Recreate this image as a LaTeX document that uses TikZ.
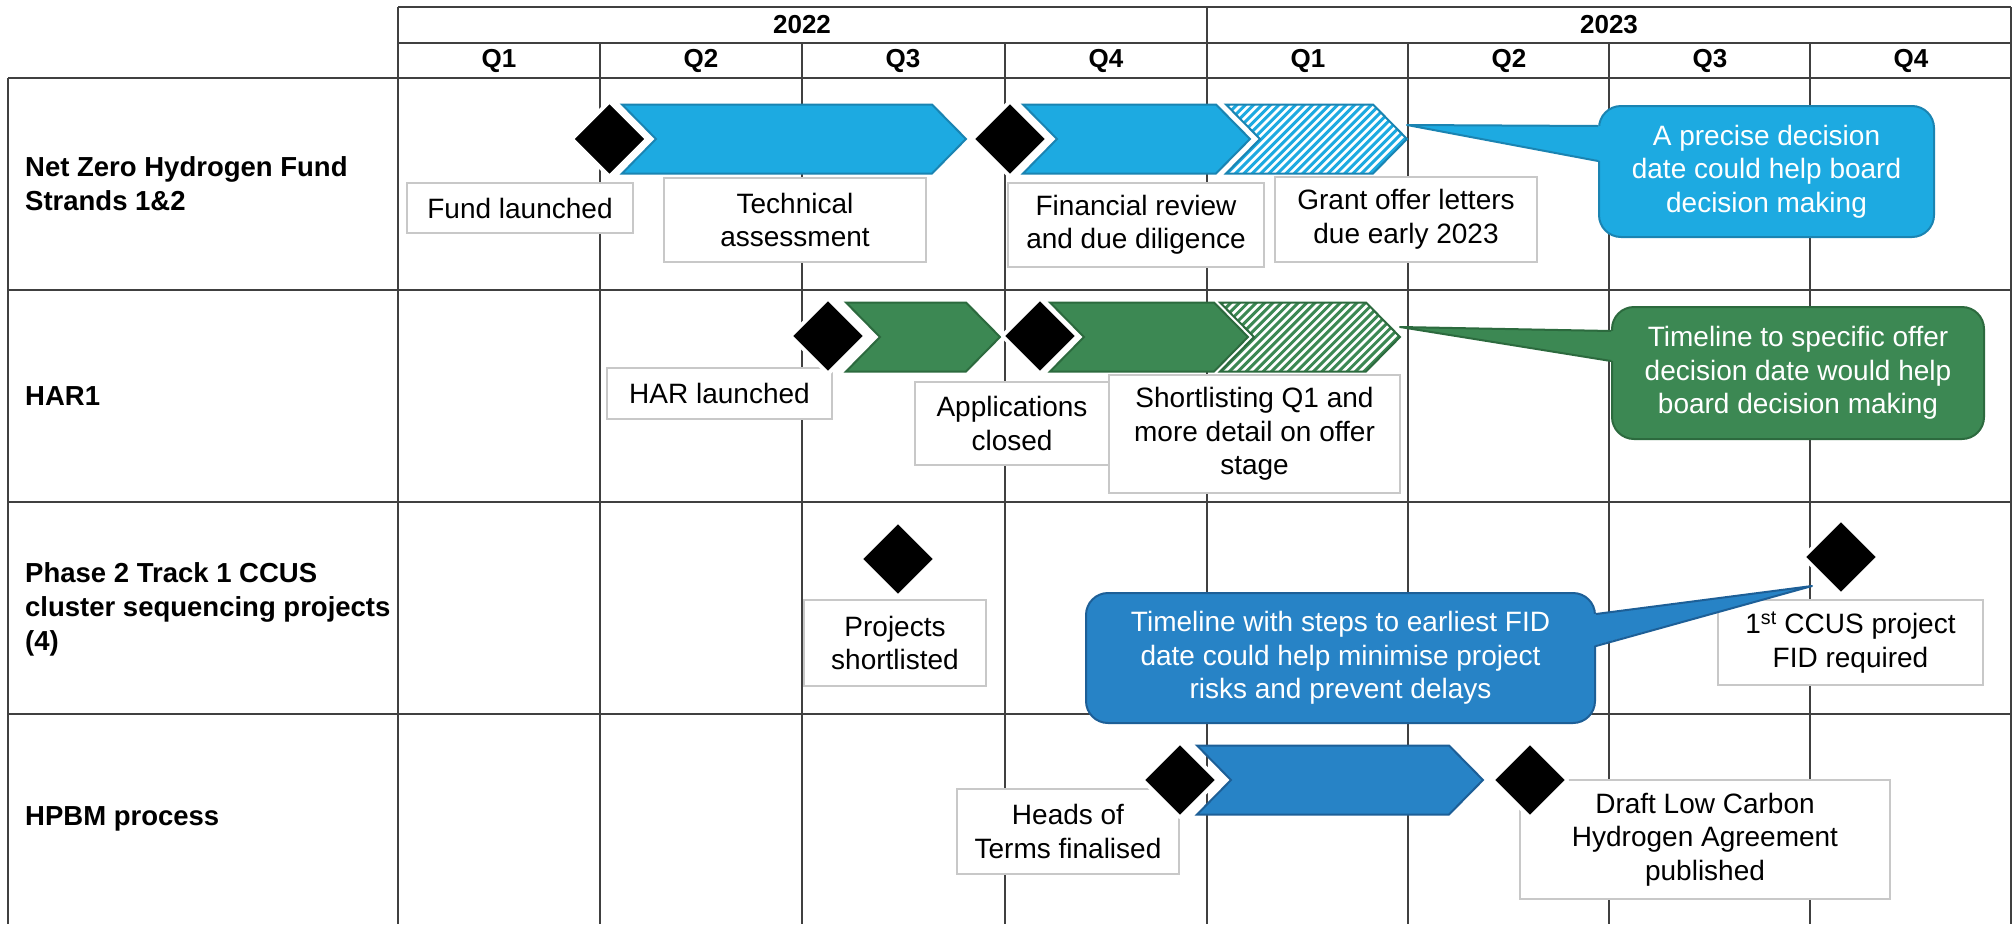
\documentclass[tikz,border=0pt]{standalone}
\usepackage{fontspec}
\setmainfont{Liberation Sans}
\usetikzlibrary{shapes.geometric,calc}

\definecolor{lblue}{HTML}{1DAAE1}
\definecolor{lblueD}{HTML}{1A84B2}
\definecolor{grn}{HTML}{3C8853}
\definecolor{grnD}{HTML}{2C6A3E}
\definecolor{dblue}{HTML}{2783C6}
\definecolor{dblueD}{HTML}{1D5F97}
\definecolor{gridc}{HTML}{404040}
\definecolor{boxc}{HTML}{C8C8C8}

% chevron: #1 style, #2 left x, #3 point x, #4 centre y
\newcommand{\chev}[4]{\path[#1] (#2,#4-34.5) -- (#3-34,#4-34.5) -- (#3,#4) -- (#3-34,#4+34.5) -- (#2,#4+34.5) -- (#2+34,#4) -- cycle;}
% hatched chevron: #1 stripe colour, #2 border colour, #3 left x, #4 point x, #5 centre y
\newcommand{\hchev}[5]{%
  \fill[white] (#3,#5-34.5) -- (#4-34,#5-34.5) -- (#4,#5) -- (#4-34,#5+34.5) -- (#3,#5+34.5) -- (#3+34,#5) -- cycle;
  \begin{scope}
    \clip (#3,#5-34.5) -- (#4-34,#5-34.5) -- (#4,#5) -- (#4-34,#5+34.5) -- (#3,#5+34.5) -- (#3+34,#5) -- cycle;
    \foreach \k in {0,...,34} \draw[#1, line width=3pt] (#3-80+\k*8.4,#5+40) -- ++(80,-80);
  \end{scope}
  \draw[#2, line width=2pt, line join=miter] (#3,#5-34.5) -- (#4-34,#5-34.5) -- (#4,#5) -- (#4-34,#5+34.5) -- (#3,#5+34.5) -- (#3+34,#5) -- cycle;}

\tikzset{
  gridline/.style={draw=gridc, line width=1.5pt},
  hdr/.style={font=\fontsize{26}{30}\selectfont\bfseries, inner sep=0pt},
  rowlbl/.style={font=\fontsize{27.5}{34}\selectfont\bfseries, align=left, anchor=west, inner sep=0pt},
  milestone/.style={diamond, fill=black, draw=white, line width=4pt, minimum width=77pt, minimum height=77pt, inner sep=0pt, rounded corners=2pt},
  lbl/.style={draw=boxc, line width=1.2pt, fill=white, align=center, inner sep=0pt, font=\fontsize{28}{33.5}\selectfont},
  callbase/.style={rounded corners=22pt, line width=2pt, text=white, align=center, inner sep=0pt, font=\fontsize{28}{33.5}\selectfont},
  solidA/.style={fill=lblue, draw=lblueD, line width=2pt},
  solidG/.style={fill=grn, draw=grnD, line width=2pt},
  solidD/.style={fill=dblue, draw=dblueD, line width=2pt},
}

\begin{document}
\begin{tikzpicture}[x=1pt,y=-1pt]
\useasboundingbox (0,0) rectangle (2013,924);
\fill[white] (0,0) rectangle (2013,924);

% ---------- grid ----------
\foreach \yy in {7,43} \draw[gridline] (398,\yy) -- (2011,\yy);
\foreach \yy in {78,290,502,714} \draw[gridline] (8,\yy) -- (2011,\yy);
\draw[gridline] (8,78) -- (8,924);
\foreach \xx in {398,1207,2011} \draw[gridline] (\xx,7) -- (\xx,924);
\foreach \xx in {600,802,1005,1408,1609,1810} \draw[gridline] (\xx,43) -- (\xx,924);

% ---------- header ----------
\node[hdr] (y22) at (802,25) {2022};
\node[hdr] (y23) at (1609,25) {2023};
\node[hdr] (q1a) at (499,60.5) {Q1};
\node[hdr] (q2a) at (701,60.5) {Q2};
\node[hdr] (q3a) at (903,60.5) {Q3};
\node[hdr] (q4a) at (1106,60.5) {Q4};
\node[hdr] (q1b) at (1308,60.5) {Q1};
\node[hdr] (q2b) at (1509,60.5) {Q2};
\node[hdr] (q3b) at (1710,60.5) {Q3};
\node[hdr] (q4b) at (1911,60.5) {Q4};

% ---------- row labels ----------
\node[rowlbl] (r1) at (25,184) {Net Zero Hydrogen Fund\\Strands 1\&2};
\node[rowlbl] (r2) at (25,396) {HAR1};
\node[rowlbl] (r3) at (25,609) {Phase 2 Track 1 CCUS\\cluster sequencing projects\\(4)};
\node[rowlbl] (r4) at (25,819) {HPBM process};

% ---------- row 1 ----------
\chev{solidA}{622}{966}{139}
\chev{solidA}{1023}{1250}{139}
\hchev{lblue}{lblueD}{1226}{1407}{139}
\node[lbl, minimum width=226pt, minimum height=50pt] (fund) at (520,208) {Fund launched};
\node[lbl, minimum width=262pt, minimum height=84pt] (tech) at (795,220) {Technical\\assessment};
\node[lbl, minimum width=256pt, minimum height=84pt] (fin) at (1136,225) {Financial review\\and due diligence};
\node[lbl, minimum width=262pt, minimum height=85pt] (grant) at (1406,219.5) {Grant offer letters\\due early 2023};

% callout A
\node[callbase, fill=lblue, draw=lblueD, minimum width=335pt, minimum height=131pt] (cA) at (1766.5,171.5) {A precise decision\\date could help board\\decision making};
\coordinate (tipA) at (1407,125);
\fill[lblue] (tipA) -- ($(cA.north west)+(3,21)$) -- ($(cA.north west)+(3,56)$) -- cycle;
\draw[lblueD, line width=2pt, line join=round] ($(cA.north west)+(0,21)$) -- (tipA) -- ($(cA.north west)+(0,56)$);

% ---------- row 2 ----------
\chev{solidG}{846}{1000}{337}
\chev{solidG}{1050}{1248}{337}
\hchev{grn}{grnD}{1220}{1400}{337}
\node[lbl, minimum width=225pt, minimum height=51pt] (har) at (719.5,393.5) {HAR launched};
\node[lbl, minimum width=194pt, minimum height=83pt] (appl) at (1012,423.5) {Applications\\closed};
\node[lbl, minimum width=291pt, minimum height=118pt] (short) at (1254.5,434) {Shortlisting Q1 and\\more detail on offer\\stage};

% callout B
\node[callbase, fill=grn, draw=grnD, minimum width=372pt, minimum height=132pt] (cB) at (1798,373) {Timeline to specific offer\\decision date would help\\board decision making};
\coordinate (tipB) at (1400,327);
\fill[grn] (tipB) -- ($(cB.north west)+(3,25)$) -- ($(cB.north west)+(3,55)$) -- cycle;
\draw[grnD, line width=2pt, line join=round] ($(cB.north west)+(0,25)$) -- (tipB) -- ($(cB.north west)+(0,55)$);

% ---------- row 3 ----------
\node[lbl, minimum width=182pt, minimum height=86pt] (proj) at (895,643) {Projects\\shortlisted};
\node[lbl, minimum width=265pt, minimum height=85pt] (ccus) at (1850.5,642.5) {1\textsuperscript{st} CCUS project\\FID required};

% callout C
\node[callbase, fill=dblue, draw=dblueD, minimum width=509pt, minimum height=130pt] (cC) at (1340.5,658) {Timeline with steps to earliest FID\\date could help minimise project\\risks and prevent delays};
\coordinate (tipC) at (1812,586);
\fill[dblue] (tipC) -- ($(cC.north east)+(-3,22)$) -- ($(cC.north east)+(-3,54)$) -- cycle;
\draw[dblueD, line width=2pt, line join=round] ($(cC.north east)+(0,22)$) -- (tipC) -- ($(cC.north east)+(0,54)$);

% ---------- row 4 ----------
\chev{solidD}{1197}{1483}{780}
\node[lbl, minimum width=222pt, minimum height=85pt] (heads) at (1068,831.5) {Heads of\\Terms finalised};
\node[lbl, minimum width=370pt, minimum height=119pt] (draft) at (1705,839.5) {Draft Low Carbon\\Hydrogen Agreement\\published};

% ---------- milestones (on top) ----------
\node[milestone] (d1) at (609.5,139) {};
\node[milestone] (d2) at (1010,139) {};
\node[milestone] (d3) at (828,336) {};
\node[milestone] (d4) at (1040,336) {};
\node[milestone] (d5) at (898,559) {};
\node[milestone] (d6) at (1841,557) {};
\node[milestone] (d7) at (1180,780) {};
\node[milestone] (d8) at (1530,780) {};
\end{tikzpicture}
\end{document}
